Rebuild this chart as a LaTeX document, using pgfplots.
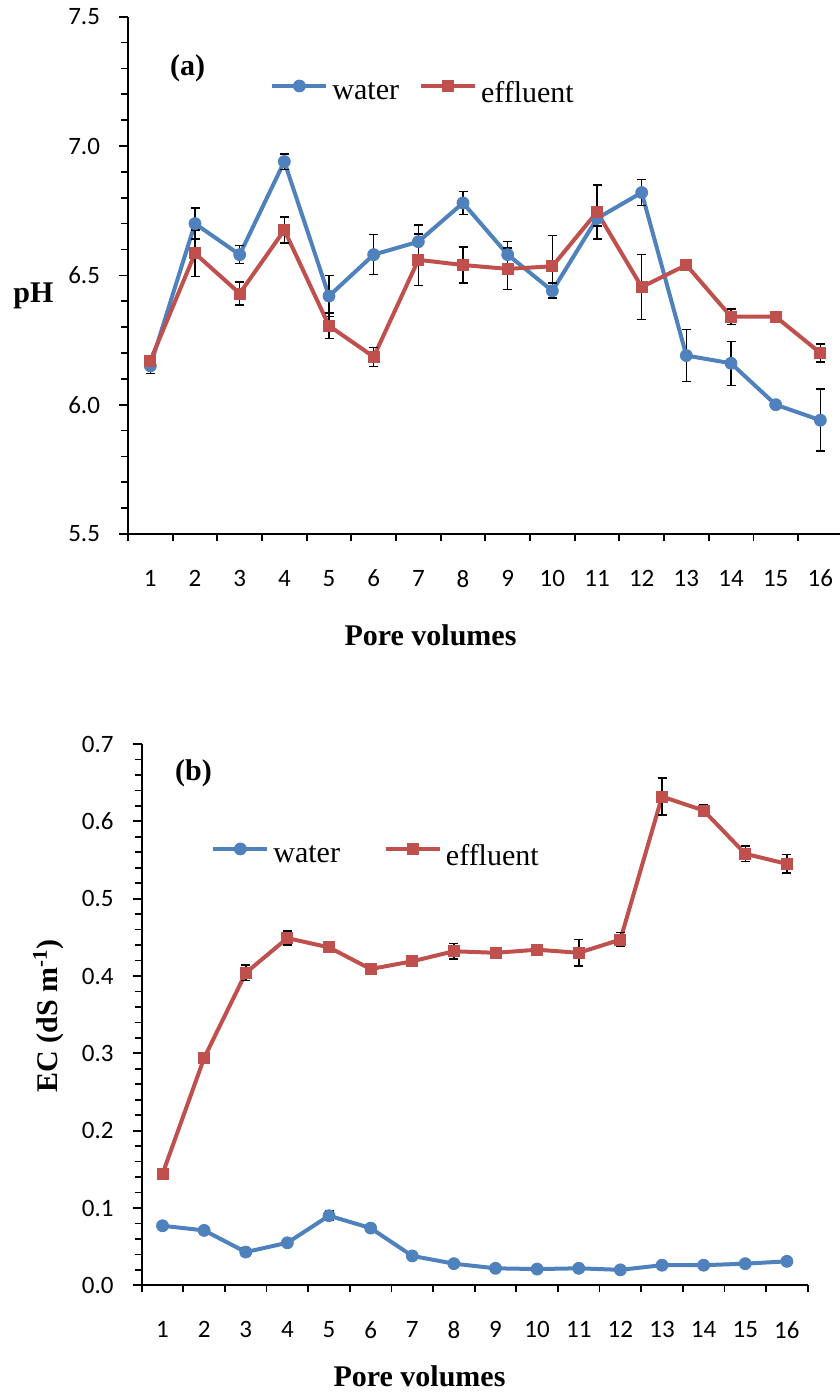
\documentclass[border=0pt]{standalone}
\usepackage{pgfplots}
\pgfplotsset{compat=1.18}
\usepackage{fontspec}
\setmainfont{Liberation Serif}
\newfontfamily\calibri{Carlito}

\definecolor{wblue}{HTML}{4F81BD}
\definecolor{ered}{HTML}{C0504D}

% pH: pore volume, mean, error
\pgfplotstableread{
x y e
1 6.15 0.03
2 6.70 0.06
3 6.58 0.035
4 6.94 0.03
5 6.42 0.08
6 6.58 0.077
7 6.63 0.065
8 6.78 0.045
9 6.58 0.05
10 6.44 0.03
11 6.72 0.03
12 6.82 0.05
13 6.19 0.10
14 6.16 0.085
15 6.00 0.01
16 5.94 0.12
}\phwater
\pgfplotstableread{
x y e
1 6.17 0.01
2 6.585 0.09
3 6.43 0.045
4 6.675 0.05
5 6.305 0.05
6 6.185 0.037
7 6.56 0.10
8 6.54 0.07
9 6.525 0.08
10 6.535 0.12
11 6.745 0.105
12 6.455 0.125
13 6.54 0.01
14 6.34 0.03
15 6.34 0.005
16 6.20 0.035
}\pheffluent

% EC (dS/m): pore volume, mean, error
\pgfplotstableread{
x y e
1 0.077 0.002
2 0.071 0.004
3 0.043 0.005
4 0.055 0.004
5 0.090 0.006
6 0.074 0.004
7 0.038 0.002
8 0.028 0.003
9 0.022 0.002
10 0.021 0.002
11 0.022 0.003
12 0.020 0.002
13 0.026 0.003
14 0.026 0.002
15 0.028 0.002
16 0.031 0.003
}\ecwater
\pgfplotstableread{
x y e
1 0.144 0.002
2 0.294 0.003
3 0.404 0.010
4 0.449 0.009
5 0.437 0.004
6 0.409 0.007
7 0.419 0.004
8 0.432 0.010
9 0.430 0.003
10 0.434 0.003
11 0.430 0.017
12 0.447 0.009
13 0.632 0.024
14 0.614 0.008
15 0.558 0.010
16 0.545 0.012
}\eceffluent

\pgfplotsset{
  panel/.style={
    scale only axis,
    axis lines=left,
    axis line style={-, line width=1pt, black},
    tick align=outside,
    tick style={line width=0.85pt, black},
    major tick length=4.5pt,
    minor tick length=3.5pt,
    xmin=0.5,
    xtick={1,...,16},
    major x tick style={draw=none},
    minor xtick={0.5,1.5,...,16.5},
    minor y tick num=4,
    ticklabel style={font=\calibri\fontsize{12.5}{14}\selectfont, black},
    /pgf/number format/assume math mode=true,
    xticklabel shift=10pt,
    yticklabel shift=6pt,
    y tick label style={/pgf/number format/.cd, fixed, fixed zerofill, precision=1},
    clip=false,
    legend columns=2,
    legend cell align=left,
    legend style={draw=none, fill=none, inner sep=0pt,
      font=\fontsize{15}{18}\selectfont},
    legend image code/.code={
      \draw[mark repeat=2, mark phase=2, #1]
        plot coordinates {(0pt,3.5pt) (13.5pt,3.5pt) (27pt,3.5pt)};},
  },
  errs/.style={
    /pgfplots/error bars/y dir=both,
    /pgfplots/error bars/y explicit,
    /pgfplots/error bars/error bar style={line width=0.75pt, black},
    /pgfplots/error bars/error mark options={rotate=90, mark size=2.25pt, line width=0.75pt, black}},
  water/.style={errs, color=wblue, line width=2pt, mark=*, mark size=3pt,
    mark options={solid, line width=0.4pt, fill=wblue, draw=wblue}},
  effluent/.style={errs, color=ered, line width=2pt, mark=square*, mark size=2.75pt,
    mark options={solid, line width=0.4pt, fill=ered, draw=ered}},
}

\begin{document}
\begin{tikzpicture}
\path[use as bounding box] (0pt,0pt) rectangle (420pt,-696pt);

% (a) pH
\begin{axis}[panel,
  at={(64pt,-8.35pt)}, anchor=north west,
  width=356pt, height=258.65pt,
  xmax=16.44,
  ymin=5.5, ymax=7.5,
  ytick={5.5,6.0,6.5,7.0,7.5},
  legend style={at={(0.1995,0.8525)}, anchor=west,
    /tikz/every even column/.append style={column sep=8pt}},
]
\addplot[water] table[x=x, y=y, y error=e] {\phwater};
\addlegendentry{water}
\addplot[effluent] table[x=x, y=y, y error=e] {\pheffluent};
\addlegendentry{effluent}
\end{axis}

% (b) EC
\begin{axis}[panel,
  at={(70.85pt,-372pt)}, anchor=north west,
  width=333pt, height=270.65pt,
  xmax=16.5,
  ymin=0, ymax=0.7,
  ytick={0,0.1,0.2,0.3,0.4,0.5,0.6,0.7},
  legend style={at={(0.104,0.7932)}, anchor=west,
    /tikz/every even column/.append style={column sep=20pt}},
]
\addplot[water] table[x=x, y=y, y error=e] {\ecwater};
\addlegendentry{water}
\addplot[effluent] table[x=x, y=y, y error=e] {\eceffluent};
\addlegendentry{effluent}
\end{axis}

\begin{scope}[every node/.style={font=\bfseries\fontsize{15}{18}\selectfont, inner sep=0pt}]
\node[anchor=base] at (93.75pt,-37.5pt) {(a)};
\node[anchor=base] at (96.75pt,-390pt) {(b)};
\node[anchor=base] at (16.75pt,-151pt) {pH};
\node[anchor=base] at (215.25pt,-322.5pt) {Pore volumes};
\node[anchor=base] at (209.75pt,-693pt) {Pore volumes};
\node[anchor=base, rotate=90] at (28.65pt,-508pt) {EC (dS m\textsuperscript{-1})};
\end{scope}
\end{tikzpicture}
\end{document}
